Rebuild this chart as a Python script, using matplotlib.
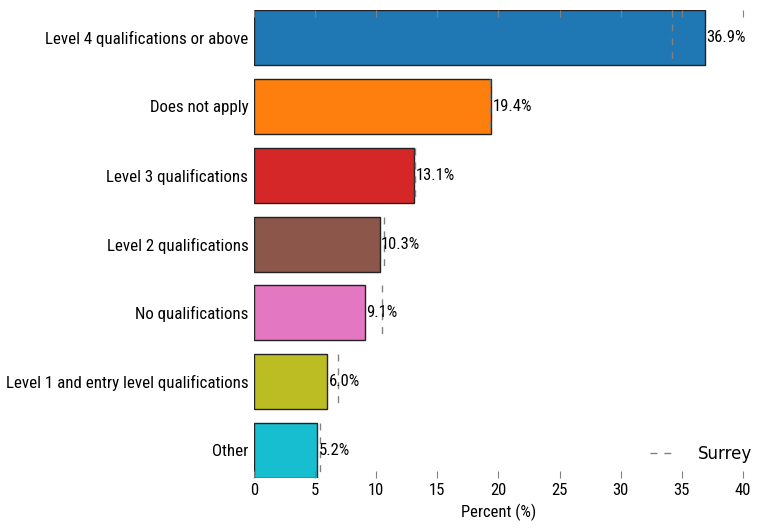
# Qualifications bar chart with Surrey comparison

import matplotlib.pyplot as plt

plt.rcParams['font.family'] = ['Roboto Condensed', 'Roboto', 'DejaVu Sans']

# Data
categories = ['Level 4 qualifications or above', 'Does not apply',
              'Level 3 qualifications', 'Level 2 qualifications',
              'No qualifications', 'Level 1 and entry level qualifications',
              'Other']
values = [36.9, 19.4, 13.1, 10.3, 9.1, 6.0, 5.2]
surrey = [34.2, 19.3, 13.2, 10.6, 10.5, 6.9, 5.4]
colours = ['#1f77b4', '#ff7f0e', '#d62728', '#8c564b', '#e377c2',
           '#bcbd22', '#17becf']

fig = plt.figure(figsize=(7.74, 5.32), dpi=100)
ax = fig.add_axes([0.328, 0.1015, 0.632, 0.8795])

ypos = list(range(len(categories)))
ax.barh(ypos, values, height=0.8, color=colours, edgecolor='#222222', linewidth=1)
for i in ypos:
    ax.text(values[i] + 0.1, i, '%.1f%%' % values[i], va='center', ha='left', fontsize=12)
ax.vlines(surrey, [y - 0.4 for y in ypos], [y + 0.4 for y in ypos],
          colors='grey', linestyles=(0, (5, 5)), linewidth=1, label='Surrey')

ax.set_xlim(0, 40)
ax.set_ylim(len(categories) - 0.6, -0.4)
ax.set_yticks(ypos)
ax.set_yticklabels(categories, fontsize=12.2)
ax.set_xticks(range(0, 41, 5))
ax.tick_params(axis='x', direction='in', top=True, bottom=True, length=5,
               color='grey', labelsize=12)
ax.tick_params(axis='y', length=0, pad=4)
for s in ax.spines.values():
    s.set_visible(False)
ax.set_xlabel('Percent (%)', fontsize=12)
ax.legend(loc='center right', bbox_to_anchor=(1.05, 0.052), frameon=False,
          prop={'family': 'DejaVu Sans', 'size': 12}, handlelength=1.4,
          handletextpad=1.5)

fig.savefig('out.png', dpi=100)
